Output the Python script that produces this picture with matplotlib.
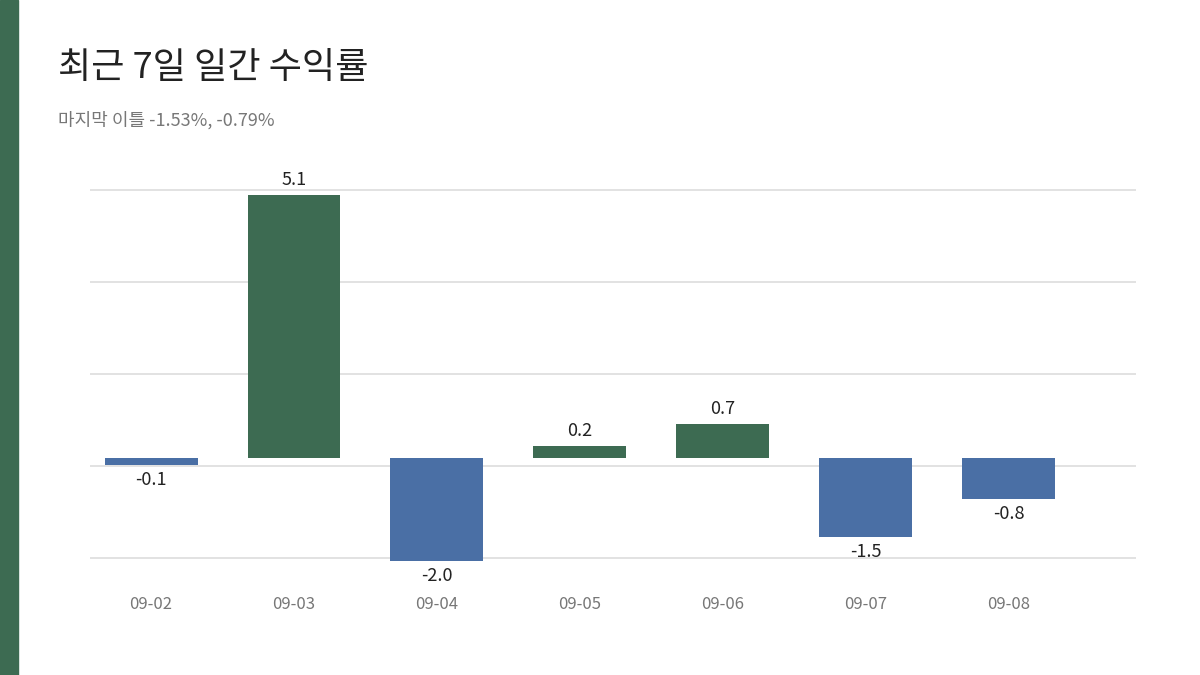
import matplotlib.pyplot as plt

plt.rcParams['font.family'] = ['Noto Sans CJK KR', 'DejaVu Sans']

dates = ["09-02", "09-03", "09-04", "09-05", "09-06", "09-07", "09-08"]
returns = [-0.14, 5.1, -2.0, 0.23, 0.66, -1.53, -0.79]
grid_vals = [5.19, 3.41, 1.63, -0.155, -1.94]

GREEN = "#3d6b52"
BLUE = "#4a6fa5"

fig = plt.figure(figsize=(12, 6.75), dpi=100)
fig.patches.append(plt.Rectangle((0, 0), 18 / 1200, 1, transform=fig.transFigure,
                                 color=GREEN, zorder=0))
fig.text(58 / 1200, 1 - 68 / 675, "최근 7일 일간 수익률", fontsize=26,
         color="#222222", va="center")
fig.text(58 / 1200, 1 - 120 / 675, "마지막 이틀 -1.53%, -0.79%", fontsize=13,
         color="#777777", va="center")

ax = fig.add_axes([90 / 1200, 1 - 590 / 675, (1136 - 90) / 1200, 440 / 675])
x = range(len(dates))
colors = [GREEN if v >= 0 else BLUE for v in returns]
ax.bar(x, returns, width=0.65, color=colors, zorder=2)
for i, v in zip(x, returns):
    if v >= 0:
        ax.text(i, v + 0.12, f"{v:.1f}", ha="center", va="bottom", fontsize=13, color="#222222")
    else:
        ax.text(i, v - 0.12, f"{v:.1f}", ha="center", va="top", fontsize=13, color="#222222")

ax.set_xlim(-0.427, 6.89)
ax.set_ylim(-2.56, 5.97)
ax.set_yticks(grid_vals)
ax.set_yticklabels([])
ax.grid(axis="y", color="#dddddd", linewidth=1.2, zorder=0)
ax.tick_params(axis="y", length=0)
ax.set_xticks(list(x))
ax.set_xticklabels(dates, fontsize=12, color="#777777")
ax.tick_params(axis="x", length=0, pad=4)
for s in ax.spines.values():
    s.set_visible(False)

fig.savefig("out.png", dpi=100)
